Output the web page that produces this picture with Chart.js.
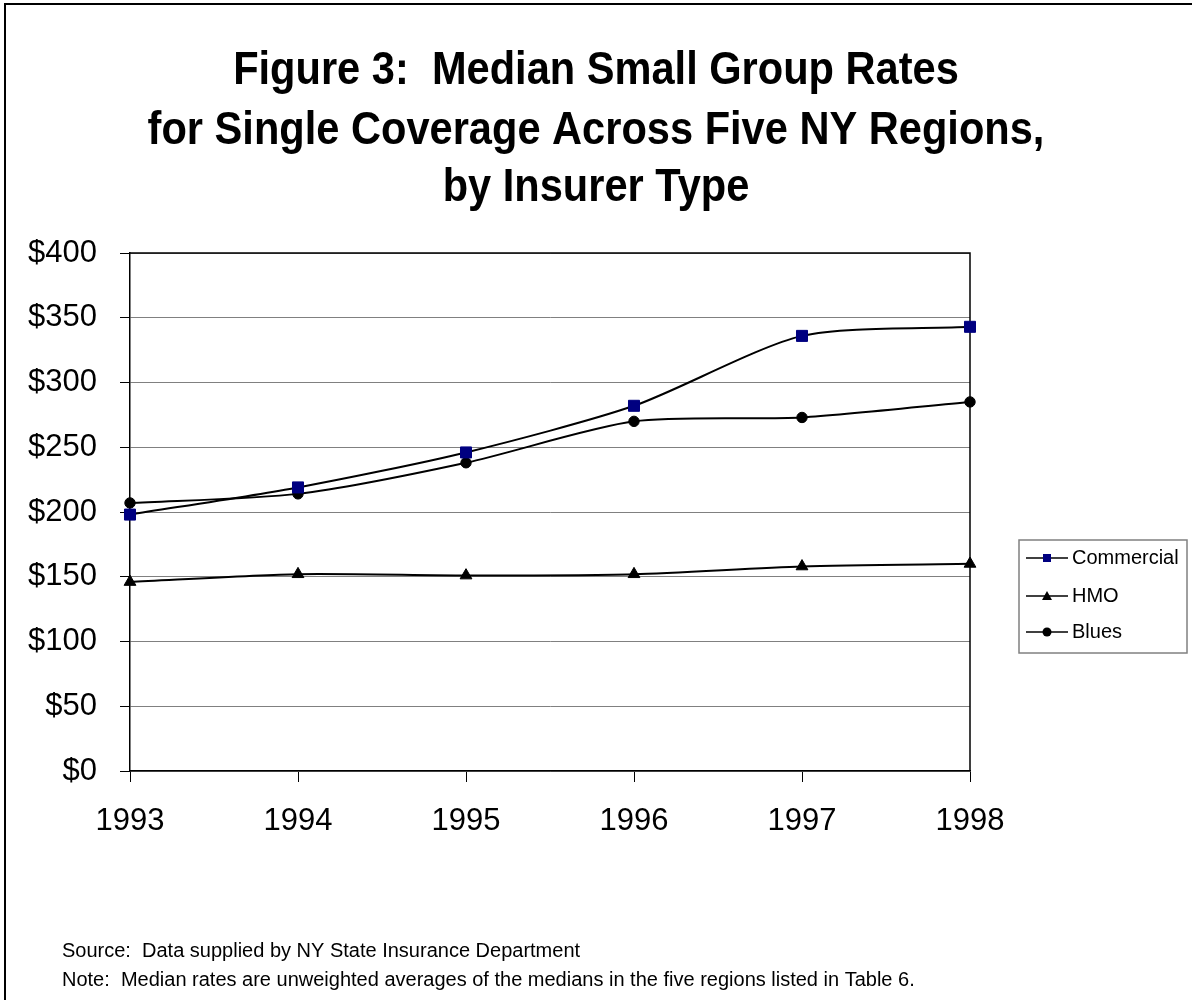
<!DOCTYPE html>
<html>
<head>
<meta charset="utf-8">
<title>Figure 3</title>
<script src="https://cdn.jsdelivr.net/npm/chart.js"></script>
<style>
  html, body { margin: 0; padding: 0; background: #fff; }
  canvas { display: block; }
</style>
</head>
<body>
<canvas id="chart" width="1192" height="1000"></canvas>
<script>
// Median monthly rates, single coverage, five NY regions
const years = ['1993', '1994', '1995', '1996', '1997', '1998'];
const commercial = [198, 219, 246, 282, 336, 343];
const hmo = [146, 152, 151, 152, 158, 160];
const blues = [207, 214, 238, 270, 273, 285];

const titleLines = [
  'Figure 3:  Median Small Group Rates',
  'for Single Coverage Across Five NY Regions,',
  'by Insurer Type'
];
const notes = [
  'Source:  Data supplied by NY State Insurance Department',
  'Note:  Median rates are unweighted averages of the medians in the five regions listed in Table 6.'
];

const FONT = '"Liberation Sans", Arial, Helvetica, sans-serif';

// page frame, title, footnotes
const decorations = {
  id: 'decorations',
  beforeDraw(chart) {
    const ctx = chart.ctx;
    ctx.save();
    ctx.fillStyle = '#fff';
    ctx.fillRect(0, 0, chart.width, chart.height);

    ctx.strokeStyle = '#000';
    ctx.lineWidth = 2;
    ctx.beginPath();
    ctx.moveTo(5, chart.height);
    ctx.lineTo(5, 4);
    ctx.lineTo(chart.width, 4);
    ctx.stroke();

    // title is set a little narrow, like the old Arial Bold heading
    ctx.fillStyle = '#000';
    ctx.textAlign = 'center';
    ctx.textBaseline = 'alphabetic';
    ctx.font = 'bold 47px ' + FONT;
    const baselines = [84, 144, 201];
    titleLines.forEach((line, i) => {
      ctx.save();
      ctx.translate(596, baselines[i]);
      ctx.scale(0.885, 1);
      ctx.fillText(line, 0, 0);
      ctx.restore();
    });

    ctx.textAlign = 'left';
    ctx.font = '20px ' + FONT;
    ctx.fillText(notes[0], 62, 957);
    ctx.fillText(notes[1], 62, 986);
    ctx.restore();
  },
  // top and right edges of the plot area
  beforeDatasetsDraw(chart) {
    const a = chart.chartArea;
    const ctx = chart.ctx;
    ctx.save();
    ctx.strokeStyle = '#000';
    ctx.lineWidth = 1.5;
    ctx.beginPath();
    ctx.moveTo(a.left, a.top);
    ctx.lineTo(a.right, a.top);
    ctx.lineTo(a.right, a.bottom);
    ctx.stroke();
    ctx.restore();
  },
  // boxed legend to the right of the plot
  afterDraw(chart) {
    const ctx = chart.ctx;
    ctx.save();
    ctx.strokeStyle = '#808080';
    ctx.lineWidth = 1.5;
    ctx.strokeRect(1019, 540, 168, 113);

    const rows = [558, 596, 632];
    chart.data.datasets.forEach((ds, i) => {
      const y = rows[i];
      ctx.strokeStyle = '#000';
      ctx.lineWidth = 1.5;
      ctx.beginPath();
      ctx.moveTo(1026, y);
      ctx.lineTo(1068, y);
      ctx.stroke();

      ctx.fillStyle = ds.pointBackgroundColor;
      const cx = 1047;
      ctx.beginPath();
      if (ds.pointStyle === 'rect') {
        ctx.rect(cx - 4, y - 4, 8, 8);
      } else if (ds.pointStyle === 'triangle') {
        ctx.moveTo(cx, y - 5);
        ctx.lineTo(cx + 5, y + 4);
        ctx.lineTo(cx - 5, y + 4);
        ctx.closePath();
      } else {
        ctx.arc(cx, y, 4.5, 0, Math.PI * 2);
      }
      ctx.fill();

      ctx.fillStyle = '#000';
      ctx.font = '20px ' + FONT;
      ctx.textAlign = 'left';
      ctx.textBaseline = 'middle';
      ctx.fillText(ds.label, 1072, y);
    });
    ctx.restore();
  }
};

const series = (label, data, style, fill, radius) => ({
  label: label,
  data: data,
  borderColor: '#000',
  borderWidth: 2,
  tension: 0.25,
  fill: false,
  pointStyle: style,
  pointRadius: radius,
  pointBackgroundColor: fill,
  pointBorderColor: fill,
  pointBorderWidth: 1
});

new Chart(document.getElementById('chart').getContext('2d'), {
  type: 'line',
  data: {
    labels: years,
    datasets: [
      series('Commercial', commercial, 'rect', '#000080', 7.8),
      series('HMO', hmo, 'triangle', '#000', 6.8),
      series('Blues', blues, 'circle', '#000', 5.2)
    ]
  },
  options: {
    responsive: false,
    animation: false,
    layout: { padding: { top: 253, right: 222, bottom: 159, left: 0 } },
    plugins: {
      legend: { display: false },
      title: { display: false },
      tooltip: { enabled: false }
    },
    scales: {
      x: {
        offset: false,
        grid: { drawOnChartArea: false, drawTicks: true, tickLength: 11, color: '#000', lineWidth: 1 },
        border: { color: '#000', width: 1.5 },
        ticks: { color: '#000', font: { family: FONT, size: 31 }, padding: 21, maxRotation: 0 },
        afterFit: (s) => { s.height = 70; }
      },
      y: {
        min: 0,
        max: 400,
        ticks: {
          stepSize: 50,
          color: '#000',
          font: { family: FONT, size: 31 },
          padding: 23,
          callback: (v) => '$' + v
        },
        grid: { color: '#808080', lineWidth: 1, tickColor: '#000', tickLength: 10 },
        border: { color: '#000', width: 1.5 },
        afterFit: (s) => { s.width = 130; }
      }
    }
  },
  plugins: [decorations]
});
</script>
</body>
</html>
